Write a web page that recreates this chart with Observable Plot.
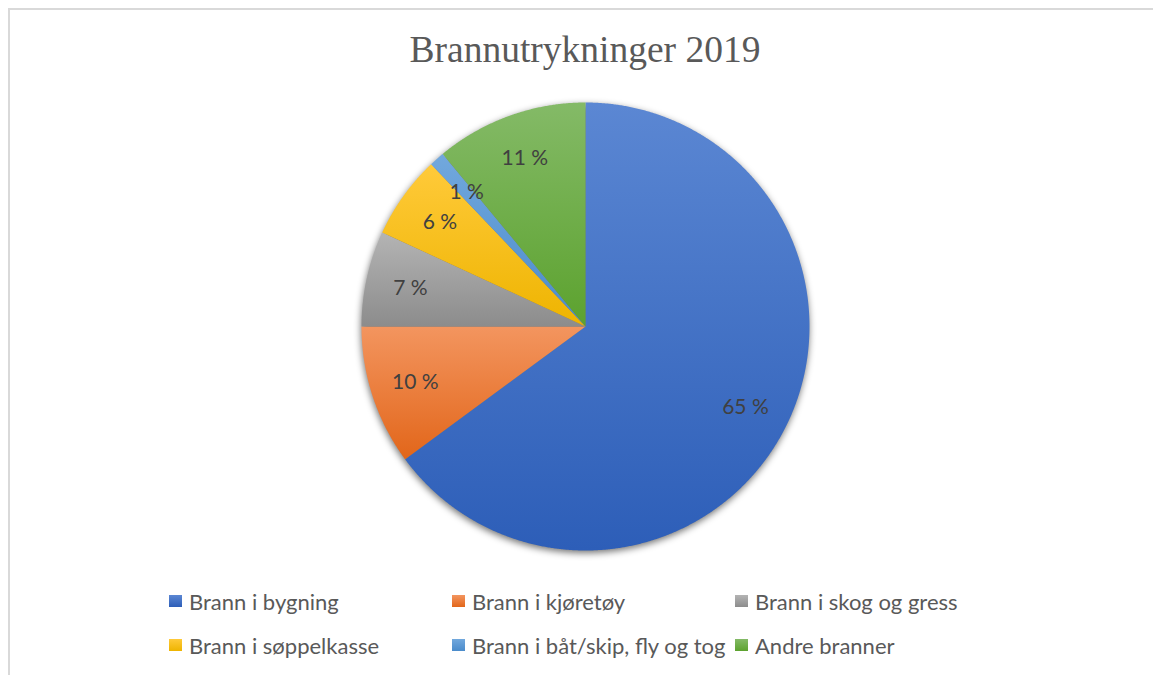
<!DOCTYPE html>
<html>
<head>
<meta charset="utf-8">
<script src="https://cdn.jsdelivr.net/npm/d3@7"></script>
<script src="https://cdn.jsdelivr.net/npm/@observablehq/plot@0.6"></script>
<style>
  html, body { margin: 0; padding: 0; background: #fff; }
  body { width: 1153px; height: 675px; overflow: hidden; position: relative; font-family: Lato, "Open Sans", sans-serif; }
  #frame { position: absolute; left: 8px; top: 8px; width: 1200px; height: 720px; border-left: 2px solid #d9d9d9; border-top: 2px solid #d9d9d9; }
  #title { position: absolute; left: 0; top: 0; width: 1170px; height: 85px; text-align: center; font-family: "Liberation Serif", "Times New Roman", serif; font-size: 37.5px; color: #595959; line-height: 100px; }
  #chart { position: absolute; left: 0; top: 85px; }
  .leg { position: absolute; display: flex; align-items: center; font-size: 22px; color: #595959; white-space: nowrap; }
  .sw { width: 13px; height: 12px; margin-right: 7px; }
</style>
</head>
<body>
<div id="frame"></div>
<div id="title">Brannutrykninger 2019</div>
<div id="chart"></div>
<div id="legend"></div>
<script>
// Data
const categories = ["Brann i bygning", "Brann i kjøretøy", "Brann i skog og gress", "Brann i søppelkasse", "Brann i båt/skip, fly og tog", "Andre branner"];
const values = [64.9, 10.1, 6.9, 6.0, 1.1, 11.0];
const labels = ["65 %", "10 %", "7 %", "6 %", "1 %", "11 %"];
const gradTop = ["#5b87d3", "#f3955f", "#b4b4b4", "#ffca3a", "#72a8dd", "#84ba67"];
const gradBottom = ["#2d5eb8", "#e2661a", "#8c8c8c", "#eeb400", "#4a8bcb", "#5ca22e"];

const arcs = d3.pie().sort(null).value(d => d)(values);
function slicePoints(a, i) {
  const pts = [{x: 0, y: 0, i}];
  const n = Math.max(2, Math.ceil((a.endAngle - a.startAngle) / 0.005));
  for (let k = 0; k <= n; k++) {
    const t = a.startAngle + (a.endAngle - a.startAngle) * k / n;
    pts.push({x: Math.sin(t), y: Math.cos(t), i});
  }
  pts.push({x: 0, y: 0, i});
  return pts;
}
const slices = arcs.map(slicePoints);
const circle = slicePoints({startAngle: 0, endAngle: 2 * Math.PI}, -1);
const labelPts = arcs.map((a, i) => {
  const m = (a.startAngle + a.endAngle) / 2;
  return {x: 0.8 * Math.sin(m), y: 0.8 * Math.cos(m), text: labels[i]};
});

const chart = Plot.plot({
  width: 1153,
  height: 490,
  margin: 0,
  x: {domain: [-1, 1], range: [361, 809], axis: null},
  y: {domain: [-1, 1], range: [465, 17], axis: null},
  style: {fontFamily: "Lato, 'Open Sans', sans-serif", background: "transparent"},
  marks: [
    Plot.line(circle, {x: "x", y: "y", fill: "#000", fillOpacity: 0.55, stroke: "none"}),
    ...slices.map((s, i) => Plot.line(s, {x: "x", y: "y", fill: `url(#g${i})`, stroke: "none"})),
    Plot.text(labelPts, {x: "x", y: "y", text: "text", fontSize: 21, fill: "#404040"})
  ]
});

const ns = "http://www.w3.org/2000/svg";
const defs = document.createElementNS(ns, "defs");
gradTop.forEach((c, i) => {
  const g = document.createElementNS(ns, "linearGradient");
  g.setAttribute("id", "g" + i);
  g.setAttribute("x1", "0"); g.setAttribute("y1", "0"); g.setAttribute("x2", "0"); g.setAttribute("y2", "1");
  const s1 = document.createElementNS(ns, "stop"); s1.setAttribute("offset", "0"); s1.setAttribute("stop-color", c);
  const s2 = document.createElementNS(ns, "stop"); s2.setAttribute("offset", "1"); s2.setAttribute("stop-color", gradBottom[i]);
  g.appendChild(s1); g.appendChild(s2); defs.appendChild(g);
});
const f = document.createElementNS(ns, "filter");
f.setAttribute("id", "shadow");
f.setAttribute("x", "-20%"); f.setAttribute("y", "-20%"); f.setAttribute("width", "140%"); f.setAttribute("height", "140%");
const blur = document.createElementNS(ns, "feGaussianBlur");
blur.setAttribute("stdDeviation", "3.5");
f.appendChild(blur);
defs.appendChild(f);
chart.insertBefore(defs, chart.firstChild);
const lineGroups = chart.querySelectorAll("g[aria-label='line']");
if (lineGroups.length) {
  lineGroups[0].setAttribute("filter", "url(#shadow)");
  lineGroups[0].setAttribute("transform", "translate(0,3)");
}
document.getElementById("chart").appendChild(chart);

// Legend
const legPos = [[169, 601], [452, 601], [735, 601], [169, 645], [452, 645], [735, 645]];
const legend = document.getElementById("legend");
categories.forEach((c, i) => {
  const d = document.createElement("div");
  d.className = "leg";
  d.style.left = legPos[i][0] + "px";
  d.style.top = (legPos[i][1] - 14) + "px";
  d.style.height = "28px";
  const sw = document.createElement("div");
  sw.className = "sw";
  sw.style.background = `linear-gradient(${gradTop[i]}, ${gradBottom[i]})`;
  const t = document.createElement("span");
  t.textContent = c;
  d.appendChild(sw); d.appendChild(t);
  legend.appendChild(d);
});
</script>
</body>
</html>
